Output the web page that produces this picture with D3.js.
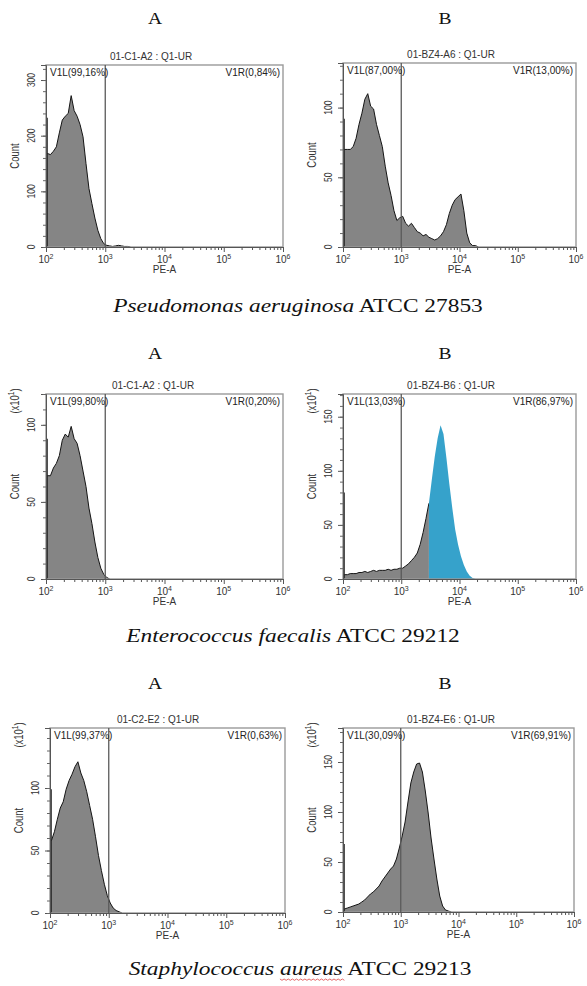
<!DOCTYPE html>
<html><head><meta charset="utf-8">
<script src="https://cdn.jsdelivr.net/npm/d3@7"></script>
<style>body{margin:0;background:#fff}</style></head>
<body><svg id="c" width="587" height="986"></svg>
<script>
// ---------------- DATA ----------------
const binStartLog = 2.0;
const binStepLog = 0.05;
const countsPaeA = [168,166,172,180,205,228,235,240,272,245,235,220,198,150,105,78,52,30,15,6,3,2,1,2,3,2,1,1,0];
const countsPaeB = [70,70,70,72,78,88,96,106,110,101,99,88,80,72,58,46,37,26,19,21,22,17,15,17,14,11,10,8,9,7,6,5,6,8,11,16,24,30,34,36,38,26,10,3,1,1,0];
const countsEfaA = [67,67,72,75,80,90,94,92,99,91,88,80,70,60,46,36,24,14,7,3,1,0];
const countsEfaB = [4,4,5,5,5,6,6,7,6,7,8,7,8,8,8,9,8,9,9,10,10,12,14,17,20,24,32,43,56,70,92,113,130,142,134,112,88,66,46,32,21,13,7,3,1,0];
const countsSauA = [58,65,75,84,89,99,106,111,117,121,112,106,97,86,75,61,46,34,23,14,8,4,2,1,0];
const countsSauB = [3,4,5,6,7,8,10,12,15,18,20,23,26,31,35,39,43,46,53,64,76,90,110,129,140,148,149,140,121,99,74,53,33,16,6,2,1,0];
const panelCounts = [countsPaeA,countsPaeB,countsEfaA,countsEfaB,countsSauA,countsSauB];
const edgeCounts = [232,92,91,80,99,68];
const highlightFromLog = [null,null,null,3.45,null,null];
const panelTitles = ["01-C1-A2 : Q1-UR","01-BZ4-A6 : Q1-UR","01-C1-A2 : Q1-UR","01-BZ4-B6 : Q1-UR","01-C2-E2 : Q1-UR","01-BZ4-E6 : Q1-UR"];
const leftGateLabels = ["V1L(99,16%)","V1L(87,00%)","V1L(99,80%)","V1L(13,03%)","V1L(99,37%)","V1L(30,09%)"];
const rightGateLabels = ["V1R(0,84%)","V1R(13,00%)","V1R(0,20%)","V1R(86,97%)","V1R(0,63%)","V1R(69,91%)"];
const yMaxes = [327,132,120,171,148,184];
const yMajorSteps = [100,50,50,50,50,50];
const yMinorSteps = [20,10,10,10,10,10];
const scaleNotes = [false,false,true,true,true,true];
const xTickExps = [2,3,4,5,6];
const gateValue = 1000;
const panelLetters = ["A","B","A","B","A","B"];
const speciesNames = ["Pseudomonas aeruginosa","Enterococcus faecalis","Staphylococcus aureus"];
const strainLabels = ["ATCC 27853","ATCC 29212","ATCC 29213"];

// ---------------- LAYOUT ----------------
const boxes = [
  {l:46,r:283,t:65,b:247},{l:343,r:576,t:63,b:247},
  {l:46,r:283,t:394,b:579},{l:343,r:576,t:394,b:579},
  {l:50,r:285,t:728,b:913},{l:343,r:574,t:728,b:912}
];
const titleX = [151,451,153,451,158,451];
const letterY = [24,24,359,359,689,689];
const letterX = [155,445,155,445,155,445];
const captionY = [312,642,975];
const captionX = [298,293,300];

const svg = d3.select("#c");
const sans = "Liberation Sans, Arial, sans-serif";
const serif = "Liberation Serif, Times New Roman, serif";
const gray = "#858585", blue = "#36a2cb";

panelCounts.forEach((counts, i) => {
  const bx = boxes[i];
  const g = svg.append("g");
  const x = d3.scaleLog().domain([100,1e6]).range([bx.l,bx.r]);
  const y = d3.scaleLinear().domain([0,yMaxes[i]]).range([bx.b,bx.t]);

  const pts = [{lg: binStartLog, c: counts[0]}].concat(
    counts.map((c,k) => ({lg: binStartLog + (k+0.5)*binStepLog, c})));
  const area = d3.area().x(d => x(Math.pow(10,d.lg))).y0(y(0)).y1(d => y(d.c));
  const line = d3.line().x(d => x(Math.pow(10,d.lg))).y(d => y(d.c));

  const hl = highlightFromLog[i];
  if (hl === null) {
    g.append("path").attr("d", area(pts)).attr("fill", gray);
    g.append("path").attr("d", line(pts)).attr("fill","none").attr("stroke","#151515").attr("stroke-width",1);
  } else {
    const k0 = pts.findIndex(p => p.lg >= hl);
    const grayPts = pts.slice(0,k0+1);
    const bluePts = pts.slice(k0);
    g.append("path").attr("d", area(grayPts)).attr("fill", gray);
    g.append("path").attr("d", line(grayPts)).attr("fill","none").attr("stroke","#151515").attr("stroke-width",1);
    g.append("path").attr("d", area(bluePts)).attr("fill", blue);
  }
  // pile-up edge bin
  g.append("line").attr("x1",x(100)+1).attr("x2",x(100)+1).attr("y1",y(0)).attr("y2",y(edgeCounts[i]))
    .attr("stroke","#222").attr("stroke-width",1.6);

  // frame
  g.append("rect").attr("x",bx.l).attr("y",bx.t).attr("width",bx.r-bx.l).attr("height",bx.b-bx.t)
    .attr("fill","none").attr("stroke","#9a9a9a").attr("stroke-width",1.4);

  // gate line
  g.append("line").attr("x1",x(gateValue)).attr("x2",x(gateValue)).attr("y1",bx.t).attr("y2",bx.b)
    .attr("stroke","#5a5a5a").attr("stroke-width",1.3);

  // x axis
  const majors = xTickExps.map(e => Math.pow(10,e));
  const minors = [];
  for (let e=2;e<6;e++) for (let m=2;m<=9;m++) minors.push(m*Math.pow(10,e));
  g.append("g").attr("transform",`translate(0,${bx.b})`)
    .call(d3.axisBottom(x).tickValues(majors).tickSize(5).tickFormat(""));
  g.append("g").attr("transform",`translate(0,${bx.b})`)
    .call(d3.axisBottom(x).tickValues(minors).tickSize(3).tickFormat("")).select(".domain").remove();
  g.selectAll(".domain").attr("stroke","#555");
  g.selectAll(".tick line").attr("stroke","#555");
  xTickExps.forEach(e => {
    const t = g.append("text").attr("x",x(Math.pow(10,e))).attr("y",bx.b+16)
      .attr("text-anchor","middle").attr("font-family",sans).attr("font-size",10).attr("fill","#333");
    t.append("tspan").text("10");
    t.append("tspan").attr("dy",-4).attr("font-size",7).text(e);
  });
  g.append("text").attr("x",(bx.l+bx.r)/2).attr("y",bx.b+26).attr("text-anchor","middle")
    .attr("font-family",sans).attr("font-size",10).attr("fill","#333").text("PE-A");

  // y axis
  const yMaj = d3.range(0, yMaxes[i]+0.01, yMajorSteps[i]);
  const yMin = d3.range(0, yMaxes[i]+0.01, yMinorSteps[i]);
  const ya = g.append("g").attr("transform",`translate(${bx.l},0)`)
    .call(d3.axisLeft(y).tickValues(yMaj).tickSize(5).tickFormat(""));
  ya.select(".domain").attr("stroke","#555");
  ya.selectAll(".tick line").attr("stroke","#555");
  const ym = g.append("g").attr("transform",`translate(${bx.l},0)`)
    .call(d3.axisLeft(y).tickValues(yMin).tickSize(3).tickFormat(""));
  ym.select(".domain").remove();
  ym.selectAll(".tick line").attr("stroke","#666");
  yMaj.forEach(v => {
    g.append("text").attr("transform",`translate(${bx.l-11},${y(v)}) scale(1.3,1) rotate(-90)`)
      .attr("text-anchor","middle").attr("font-family",sans).attr("font-size",8.5).attr("fill","#333").text(v);
  });
  g.append("text").attr("transform",`translate(${bx.l-27},${(bx.t+bx.b)/2}) scale(1.3,1) rotate(-90)`)
    .attr("text-anchor","middle").attr("font-family",sans).attr("font-size",9.5).attr("fill","#333").text("Count");
  if (scaleNotes[i]) {
    const t = g.append("text").attr("transform",`translate(${bx.l-27},${bx.t+7}) scale(1.3,1) rotate(-90)`)
      .attr("text-anchor","middle").attr("font-family",sans).attr("font-size",9.5).attr("fill","#333");
    t.append("tspan").text("(x10");
    t.append("tspan").attr("dy",-4).attr("font-size",6.5).text("1");
    t.append("tspan").attr("dy",4).text(")");
  }

  // titles and gate labels
  g.append("text").attr("x",titleX[i]).attr("y",bx.t-5).attr("text-anchor","middle")
    .attr("font-family",sans).attr("font-size",10).attr("fill","#333").text(panelTitles[i]);
  g.append("text").attr("x",bx.l+4).attr("y",bx.t+11).attr("font-family",sans).attr("font-size",10)
    .attr("fill","#222").text(leftGateLabels[i]);
  g.append("text").attr("x",bx.r-3).attr("y",bx.t+11).attr("text-anchor","end").attr("font-family",sans)
    .attr("font-size",10).attr("fill","#222").text(rightGateLabels[i]);

  // panel letter
  svg.append("text").attr("transform",`translate(${letterX[i]},${letterY[i]}) scale(1.15,1)`)
    .attr("text-anchor","middle").attr("font-family",serif).attr("font-size",17).attr("fill","#111").text(panelLetters[i]);
});

// captions
speciesNames.forEach((name, j) => {
  const cg = svg.append("g").attr("transform",`translate(${captionX[j]},${captionY[j]}) scale(1.3,1)`);
  const t = cg.append("text").attr("x",0).attr("y",0).attr("text-anchor","middle")
    .attr("font-family",serif).attr("font-size",18).attr("fill","#111");
  t.append("tspan").attr("font-style","italic").text(name);
  t.append("tspan").text(" " + strainLabels[j]);
  if (j === 2) {
    const node = t.node();
    const idx = name.indexOf("aureus");
    const s = node.getStartPositionOfChar(idx);
    const e = node.getEndPositionOfChar(idx + 5);
    const yy = 4;
    let d = `M${s.x},${yy}`;
    for (let xx = s.x, k=0; xx < e.x; xx += 1.6, k++) d += `L${xx+1.6},${yy + (k%2 ? 0 : 1.3)}`;
    cg.append("path").attr("d",d).attr("fill","none").attr("stroke","#d44").attr("stroke-width",0.7);
  }
});
</script></body></html>
